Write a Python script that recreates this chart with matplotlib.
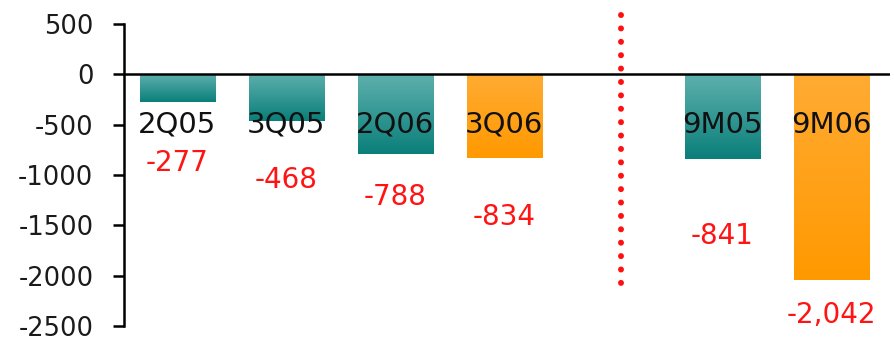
import numpy as np
import matplotlib
matplotlib.use("Agg")
import matplotlib.pyplot as plt
from matplotlib.colors import LinearSegmentedColormap

plt.rcParams['font.family'] = ['DejaVu Sans']
plt.rcParams['axes.unicode_minus'] = False

periods = ['2Q05', '3Q05', '2Q06', '3Q06', '9M05', '9M06']
values = [-277, -468, -788, -834, -841, -2042]
value_text = ['-277', '-468', '-788', '-834', '-841', '-2,042']
xpos = [0, 1, 2, 3, 5, 6]
kind = ['teal', 'teal', 'teal', 'orange', 'teal', 'orange']

# where the red numbers sit (data units)
label_y = [-880, -1050, -1220, -1415, -1610, -2395]

grads = {
    'teal': LinearSegmentedColormap.from_list('teal', ['#0a7f7a', '#5eb0ad']),
    'orange': LinearSegmentedColormap.from_list('orange', ['#ff9900', '#ffab33']),
}

fig = plt.figure(figsize=(8.94, 3.37), dpi=100)
ax = fig.add_axes([124 / 894, 11 / 337, (890 - 124) / 894, 302 / 337])

ax.set_xlim(-0.49, 6.54)
ax.set_ylim(-2500, 500)

width = 0.69
bars = ax.bar(xpos, values, width=width, color='none', edgecolor='none', zorder=2)
grad = np.linspace(0, 1, 256).reshape(-1, 1)
for b, k in zip(bars, kind):
    x0 = b.get_x()
    y0 = b.get_y() + b.get_height()
    im = ax.imshow(grad, cmap=grads[k], aspect='auto', origin='lower',
                   extent=[x0, x0 + b.get_width(), y0, 0], zorder=2)
    im.set_clip_path(b)

for x, name in zip(xpos, periods):
    ax.text(x, -500, name, ha='center', va='center', fontsize=21,
            color='#111111', zorder=4)

for x, t, ly in zip(xpos, value_text, label_y):
    ax.text(x, ly, t, ha='center', va='center', fontsize=20,
            color='#ff1414', zorder=4)

# separator between quarters and nine-month totals (round dots ~9.6pt apart)
lw = 4.3
ax.plot([4.07, 4.07], [590, -2090], color='#ff1010', linewidth=lw,
        linestyle=(0, (0.01, 9.6 / lw)), dash_capstyle='round',
        clip_on=False, zorder=3)

ax.axhline(0, color='black', linewidth=1.8, zorder=3)

for s in ['top', 'right', 'bottom']:
    ax.spines[s].set_visible(False)
ax.spines['left'].set_linewidth(1.8)
ax.set_xticks([])
ax.set_yticks(np.arange(-2500, 501, 500))
ax.tick_params(axis='y', direction='out', length=8, width=1.8,
               labelsize=18.5, labelcolor='#1a1a1a', pad=14)

fig.savefig('out.png', dpi=100)
